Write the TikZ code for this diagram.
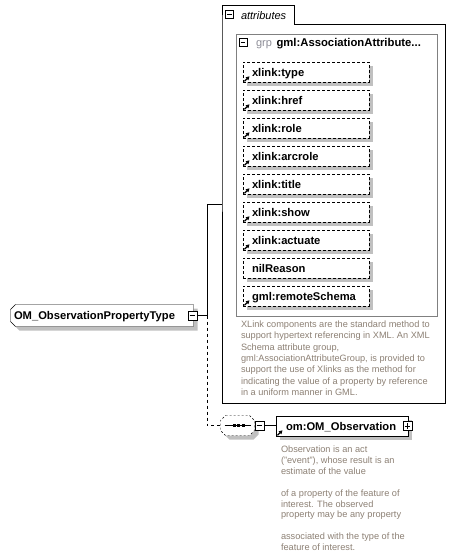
\documentclass[tikz,border=0pt]{standalone}
\usepackage{fontspec}
\setmainfont{Liberation Sans}
\usetikzlibrary{shadows,calc,arrows.meta,backgrounds}
\definecolor{anncol}{RGB}{140,128,116}
\definecolor{shadowc}{RGB}{192,192,192}
\definecolor{grpframe}{RGB}{128,128,128}
\definecolor{grpcol}{RGB}{140,140,150}
\newcommand\lblfont{\fontsize{11.2}{13}\selectfont\bfseries}
\newcommand\annfont{\fontsize{9.2}{11}\selectfont}
\newcommand\refmark[1]{\draw[line width=1.2pt,-{Triangle[length=3.6pt,width=3.8pt]}] ($(#1.south west)+(2,-1.2)$) -- ++(5,-5);}
\newcommand\minusmark[1]{\draw[line width=0.8pt] ($(#1.west)+(2,0)$) -- ($(#1.east)+(-2,0)$);}
\newcommand\plusmark[1]{\minusmark{#1}\draw[line width=0.8pt] ($(#1.north)+(0,2)$) -- ($(#1.south)+(0,-2)$);}
\begin{document}
\begin{tikzpicture}[x=1pt,y=-1pt,line width=1pt,
  shadowed/.style={drop shadow={shadow xshift=4pt,shadow yshift=-4pt,opacity=1,fill=shadowc}},
  attrbox/.style={draw,dash pattern=on 3pt off 2pt,fill=white,shadowed,minimum height=20pt,inner ysep=0pt,inner xsep=9pt,text width=108pt,align=left,text height=8pt,text depth=0pt,font=\lblfont},
  expbox/.style={draw,fill=white,line width=0.8pt,minimum size=9pt,inner sep=0pt},
  ann/.style={anchor=base west,inner sep=0pt,text=anncol,font=\annfont},
  conn/.style={line width=1pt},
  dconn/.style={line width=1pt,dash pattern=on 3pt off 3pt}]
\useasboundingbox (0,0) rectangle (455,558);

% attributes container
\node[inner sep=0pt,minimum width=222.5pt,minimum height=378pt,anchor=north west] (attrs) at (222,24) {};
\draw (attrs.north west) -- ++(0,-19) -- ++(72,0) -- ++(0,19) -- (attrs.north east) -- (attrs.south east) -- (attrs.south west) -- cycle;
\node[expbox,minimum size=8pt] (attrsm) at (229.5,14.5) {};
\minusmark{attrsm}
\node[anchor=base west,inner sep=0pt,font=\fontsize{11}{13}\selectfont\itshape] (attrslbl) at (240.5,19) {attributes};

% attribute group
\node[draw=grpframe,inner sep=0pt,minimum width=201pt,minimum height=282.5pt,anchor=north west] (grp) at (235.5,33.5) {};
\node[expbox,minimum size=8pt] (grpm) at (243,42.5) {};
\minusmark{grpm}
\node[anchor=base west,inner sep=0pt,text=grpcol,font=\fontsize{11}{13}\selectfont] (grpk) at (255.5,46.5) {grp};
\node[anchor=base west,inner sep=0pt,font=\fontsize{11.3}{13}\selectfont\bfseries] (grpn) at (276,46.5) {gml:AssociationAttribute...};

\foreach \i/\lab/\hasref in {1/xlink:type/1,2/xlink:href/1,3/xlink:role/1,4/xlink:arcrole/1,5/xlink:title/1,6/xlink:show/1,7/xlink:actuate/1,8/nilReason/0,9/gml:remoteSchema/1}{
  \node[attrbox] (a\i) at (306,{72+28*(\i-1)}) {\lab};
  \ifnum\hasref=1 \refmark{a\i}\fi
}

% annotation of attribute group
\node[ann] (ann1) at (240.5,327.5) {XLink components are the standard method to};
\node[ann] (ann2) at (240.5,338.8) {support hypertext referencing in XML. An XML};
\node[ann] (ann3) at (240.5,350.1) {Schema attribute group,};
\node[ann] (ann4) at (240.5,361.4) {gml:AssociationAttributeGroup, is provided to};
\node[ann] (ann5) at (240.5,372.7) {support the use of Xlinks as the method for};
\node[ann] (ann6) at (240.5,384.0) {indicating the value of a property by reference};
\node[ann] (ann7) at (240.5,395.3) {in a uniform manner in GML.};

% root element
\node[inner xsep=3pt,inner ysep=0pt,text width=176pt,align=left,minimum height=21pt,text height=8pt,text depth=0pt,font=\lblfont] (root) at (102,315.5) {OM\_ObservationPropertyType};
\begin{scope}[on background layer]
\draw[shadowed,fill=white] ($(root.north west)+(5,0)$) -- (root.north east) -- (root.south east) -- ($(root.south west)+(5,0)$) -- ($(root.south west)+(0,-5)$) -- ($(root.north west)+(0,5)$) -- cycle;
\end{scope}
\node[expbox] (rootm) at (192.5,315.5) {};
\minusmark{rootm}

\coordinate (j) at (207,315.5);
\coordinate (jt) at (207,204);
\draw[conn] (rootm.east) -- (j) -- (jt) -- (jt -| attrs.west);

% sequence compositor
\node[inner sep=0pt,minimum width=33pt,minimum height=19pt] (comp) at (237.5,425.5) {};
\begin{scope}[on background layer]
\draw[shadowed,fill=white,dash pattern=on 2pt off 2pt] ($(comp.north west)+(5,0)$) -- ($(comp.north east)+(-5,0)$) -- ($(comp.north east)+(0,5)$) -- ($(comp.south east)+(0,-5)$) -- ($(comp.south east)+(-5,0)$) -- ($(comp.south west)+(5,0)$) -- ($(comp.south west)+(0,-5)$) -- ($(comp.north west)+(0,5)$) -- cycle;
\end{scope}
\draw[line width=1pt] ($(comp.west)+(4,0)$) -- ($(comp.east)+(-4,0)$);
\foreach \dx in {-5,-0.5,4}{
  \fill ($(comp.center)+(\dx,-1.5)$) rectangle ++(3,3);
}
\draw[dconn] (j) -- (j |- comp.west) -- (comp.west);
\node[expbox] (compm) at (259.5,425.5) {};
\minusmark{compm}
\draw[conn] (comp.east) -- (compm.west);

% OM_Observation element
\node[draw,fill=white,shadowed,inner xsep=10pt,inner ysep=0pt,text width=112pt,align=left,minimum height=20pt,text height=8.3pt,text depth=0pt,font=\lblfont] (obs) at (342,426) {om:OM\_Observation};
\refmark{obs}
\node[expbox] (obsp) at (407.5,426) {};
\plusmark{obsp}
\draw[conn] (compm.east) -- (compm.east -| obs.west);

% annotation of OM_Observation
\node[ann] (oann1) at (280.5,452.5) {Observation is an act};
\node[ann] (oann2) at (280.5,463.4) {("event"), whose result is an};
\node[ann] (oann3) at (280.5,474.3) {estimate of the value};
\node[ann] (oann4) at (280.5,496.1) {of a property of the feature of};
\node[ann] (oann5) at (280.5,507.0) {interest. The observed};
\node[ann] (oann6) at (280.5,517.9) {property may be any property};
\node[ann] (oann7) at (280.5,539.7) {associated with the type of the};
\node[ann] (oann8) at (280.5,550.6) {feature of interest.};
\end{tikzpicture}
\end{document}
